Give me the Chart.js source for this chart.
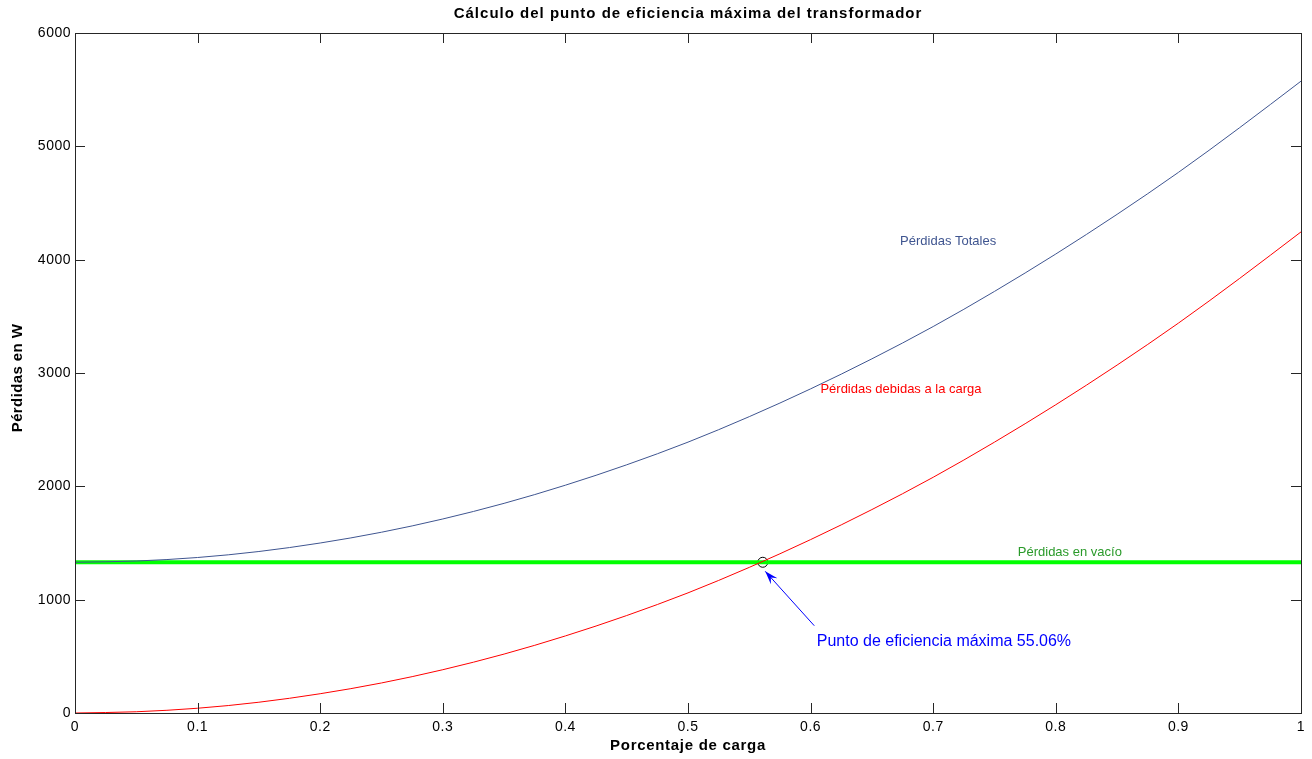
<!DOCTYPE html>
<html>
<head>
<meta charset="utf-8">
<title>Cálculo del punto de eficiencia máxima del transformador</title>
<script src="https://cdn.jsdelivr.net/npm/chart.js@4.4.1/dist/chart.umd.min.js"></script>
<style>
  html, body { margin: 0; padding: 0; background: #fff; }
  #wrap { width: 1312px; height: 759px; }
</style>
</head>
<body>
<div id="wrap"><canvas id="myChart" width="1312" height="759"></canvas></div>
<script>
// porcentaje de carga (0..1)
const carga = [0, 0.05, 0.1, 0.15, 0.2, 0.25, 0.3, 0.35, 0.4, 0.45, 0.5,
               0.55, 0.6, 0.65, 0.7, 0.75, 0.8, 0.85, 0.9, 0.95, 1];
// perdidas debidas a la carga (W)
const perdidasCarga = [0, 11, 42, 95, 170, 265, 382, 520, 680, 860, 1060,
                       1285, 1530, 1795, 2080, 2390, 2720, 3070, 3440, 3835, 4245];
// perdidas totales (W)
const perdidasTotales = [1330, 1341, 1372, 1425, 1500, 1595, 1712, 1850, 2010, 2190, 2390,
                         2615, 2860, 3125, 3410, 3720, 4050, 4400, 4770, 5165, 5575];
// perdidas en vacio (W), constante
const perdidasVacio = [1330, 1330];
const vacioX = [0, 1];
// punto de eficiencia maxima
const puntoMax = [{ x: 0.561, y: 1330 }];

const xTicks = [0, 0.1, 0.2, 0.3, 0.4, 0.5, 0.6, 0.7, 0.8, 0.9, 1];
const yTicks = [0, 1000, 2000, 3000, 4000, 5000, 6000];

const textLabels = [
  { text: 'Pérdidas Totales', x: 0.673, y: 4160, color: '#3f5590', font: '13px "Liberation Sans", Arial' },
  { text: 'Pérdidas debidas a la carga', x: 0.608, y: 2855, color: '#ff0000', font: '13px "Liberation Sans", Arial' },
  { text: 'Pérdidas en vacío', x: 0.769, y: 1420, color: '#2a9a2a', font: '13px "Liberation Sans", Arial' },
  { text: 'Punto de eficiencia máxima 55.06%', x: 0.605, y: 627, color: '#0000ff', font: '16px "Liberation Sans", Arial' }
];

function toPts(xs, ys) {
  return xs.map((x, i) => ({ x: x, y: ys[i] }));
}

const matlabAxes = {
  id: 'matlabAxes',
  afterDraw(chart) {
    const ctx = chart.ctx;
    const xs = chart.scales.x;
    const ys = chart.scales.y;
    const a = chart.chartArea;
    ctx.save();
    // box
    ctx.strokeStyle = '#262626';
    ctx.lineWidth = 1;
    ctx.strokeRect(Math.round(a.left) + 0.5, Math.round(a.top) + 0.5,
                   Math.round(a.right - a.left), Math.round(a.bottom - a.top));
    // ticks inside, all sides
    ctx.beginPath();
    xTicks.forEach(v => {
      const px = Math.round(xs.getPixelForValue(v)) + 0.5;
      ctx.moveTo(px, a.bottom); ctx.lineTo(px, a.bottom - 10);
      ctx.moveTo(px, a.top); ctx.lineTo(px, a.top + 10);
    });
    yTicks.forEach(v => {
      const py = Math.round(ys.getPixelForValue(v)) + 0.5;
      ctx.moveTo(a.left, py); ctx.lineTo(a.left + 10, py);
      ctx.moveTo(a.right, py); ctx.lineTo(a.right - 10, py);
    });
    ctx.stroke();
    // tick labels
    ctx.fillStyle = '#000';
    ctx.font = '14px "Liberation Sans", Arial';
    ctx.letterSpacing = '0.5px';
    ctx.textAlign = 'center';
    ctx.textBaseline = 'top';
    xTicks.forEach(v => {
      ctx.fillText(String(v), xs.getPixelForValue(v), a.bottom + 7);
    });
    ctx.textAlign = 'right';
    ctx.textBaseline = 'middle';
    yTicks.forEach(v => {
      ctx.fillText(String(v), a.left - 4, ys.getPixelForValue(v));
    });
    // titles
    ctx.font = 'bold 15px "Liberation Sans", Arial';
    ctx.letterSpacing = '1px';
    ctx.textAlign = 'center';
    ctx.textBaseline = 'middle';
    ctx.fillText('Cálculo del punto de eficiencia máxima del transformador', (a.left + a.right) / 2, 14);
    ctx.letterSpacing = '0.7px';
    ctx.fillText('Porcentaje de carga', (a.left + a.right) / 2, 746);
    ctx.save();
    ctx.letterSpacing = '0.4px';
    ctx.translate(18, (a.top + a.bottom) / 2 + 5);
    ctx.rotate(-Math.PI / 2);
    ctx.fillText('Pérdidas en W', 0, 0);
    ctx.restore();
    // text labels
    ctx.letterSpacing = '0px';
    ctx.textAlign = 'left';
    textLabels.forEach(l => {
      ctx.font = l.font;
      ctx.fillStyle = l.color;
      ctx.fillText(l.text, xs.getPixelForValue(l.x), ys.getPixelForValue(l.y));
    });
    // arrow from label to point
    const tx = xs.getPixelForValue(0.603), ty = ys.getPixelForValue(770);
    const hx = xs.getPixelForValue(0.563), hy = ys.getPixelForValue(1250);
    ctx.strokeStyle = '#0000ff';
    ctx.fillStyle = '#0000ff';
    ctx.lineWidth = 1;
    ctx.beginPath();
    ctx.moveTo(tx, ty); ctx.lineTo(hx, hy);
    ctx.stroke();
    const ang = Math.atan2(hy - ty, hx - tx);
    const len = 14, w = 0.32;
    ctx.beginPath();
    ctx.moveTo(hx, hy);
    ctx.lineTo(hx - len * Math.cos(ang - w), hy - len * Math.sin(ang - w));
    ctx.lineTo(hx - len * 0.6 * Math.cos(ang), hy - len * 0.6 * Math.sin(ang));
    ctx.lineTo(hx - len * Math.cos(ang + w), hy - len * Math.sin(ang + w));
    ctx.closePath();
    ctx.fill();
    ctx.restore();
  }
};

window.onload = function () {
  const ctx = document.getElementById('myChart').getContext('2d');
  new Chart(ctx, {
    type: 'scatter',
    data: {
      datasets: [
        {
          label: 'Pérdidas Totales',
          data: toPts(carga, perdidasTotales),
          showLine: true,
          borderColor: '#3f5590',
          borderWidth: 1,
          pointRadius: 0,
          cubicInterpolationMode: 'monotone'
        },
        {
          label: 'Pérdidas debidas a la carga',
          data: toPts(carga, perdidasCarga),
          showLine: true,
          borderColor: '#ff0000',
          borderWidth: 1,
          pointRadius: 0,
          cubicInterpolationMode: 'monotone'
        },
        {
          label: 'Pérdidas en vacío',
          data: toPts(vacioX, perdidasVacio),
          showLine: true,
          borderColor: '#00ff00',
          borderWidth: 4,
          pointRadius: 0
        },
        {
          label: 'Punto de eficiencia máxima',
          data: puntoMax,
          showLine: false,
          pointRadius: 5,
          pointBackgroundColor: 'rgba(0,0,0,0)',
          pointBorderColor: '#000',
          pointBorderWidth: 1
        }
      ]
    },
    options: {
      responsive: false,
      animation: false,
      layout: { padding: { left: 75, right: 11, top: 33, bottom: 46 } },
      plugins: {
        legend: { display: false },
        tooltip: { enabled: false },
        title: { display: false }
      },
      scales: {
        x: {
          type: 'linear', min: 0, max: 1,
          grid: { display: false, drawTicks: false },
          border: { display: false },
          ticks: { display: false }
        },
        y: {
          type: 'linear', min: 0, max: 6000,
          grid: { display: false, drawTicks: false },
          border: { display: false },
          ticks: { display: false }
        }
      }
    },
    plugins: [matlabAxes]
  });
};
</script>
</body>
</html>
